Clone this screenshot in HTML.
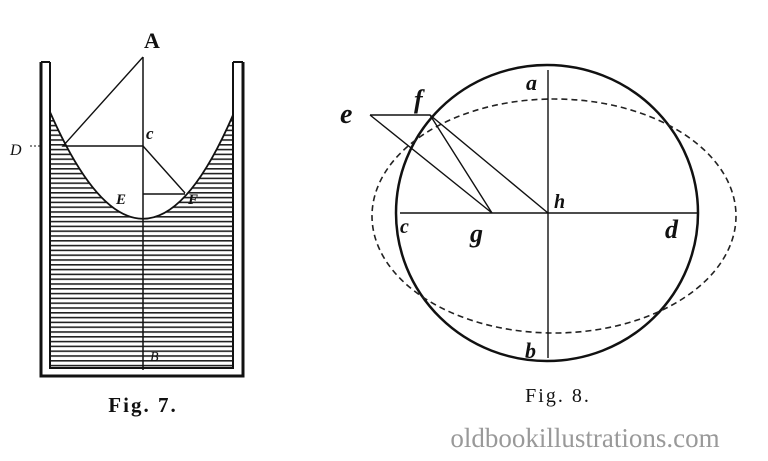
<!DOCTYPE html>
<html><head><style>
html,body{margin:0;padding:0;background:#fff;}
svg{display:block}
</style></head><body>
<svg width="768" height="461" viewBox="0 0 768 461" xmlns="http://www.w3.org/2000/svg">
<defs>
<clipPath id="water">
<path d="M50,112 Q143,324 233,115 L233,368 L50,368 Z"/>
</clipPath>
<pattern id="hatch" width="10" height="4.8" patternUnits="userSpaceOnUse">
<rect width="10" height="1.6" fill="#222"/>
</pattern>
</defs>
<rect width="768" height="461" fill="#fff"/>
<rect x="50" y="100" width="183" height="268" fill="url(#hatch)" clip-path="url(#water)"/>
<path d="M41,62 L41,376 L243,376 L243,62" fill="none" stroke="#111" stroke-width="3"/>
<path d="M50,62 L50,368 L233,368 L233,62" fill="none" stroke="#111" stroke-width="2"/>
<path d="M41,62 L50,62 M233,62 L243,62" stroke="#111" stroke-width="2"/>
<path d="M50,112 Q143,324 233,115" fill="none" stroke="#111" stroke-width="1.8"/>
<line x1="143" y1="57" x2="143" y2="370" stroke="#111" stroke-width="1.5"/>
<path d="M143,57 L63,146 L143,146 L185,193 M143,194 L185,194" fill="none" stroke="#111" stroke-width="1.4"/>
<line x1="30" y1="146" x2="40" y2="146" stroke="#111" stroke-width="1" stroke-dasharray="2,2"/>
<g font-family="Liberation Serif, serif" fill="#111">
<text x="152" y="48" font-size="22" font-weight="bold" text-anchor="middle">A</text>
<text x="10" y="155" font-size="16" font-style="italic">D</text>
<text x="146" y="139" font-size="17" font-style="italic" font-weight="bold">c</text>
<text x="116" y="204" font-size="15" font-style="italic" font-weight="bold">E</text>
<text x="188" y="204" font-size="15" font-style="italic" font-weight="bold">F</text>
<text x="150" y="361" font-size="14" font-style="italic">B</text>
<text x="143" y="412" font-size="21" font-weight="bold" text-anchor="middle" letter-spacing="2">Fig. 7.</text>
</g>
<ellipse cx="547" cy="213" rx="151" ry="148" fill="none" stroke="#111" stroke-width="2.5"/>
<ellipse cx="554" cy="216" rx="182" ry="117" fill="none" stroke="#222" stroke-width="1.6" stroke-dasharray="6,4"/>
<line x1="548" y1="70" x2="548" y2="358" stroke="#111" stroke-width="1.4"/>
<line x1="400" y1="213" x2="697" y2="213" stroke="#111" stroke-width="1.6"/>
<path d="M370,115 L430,115 L492,213 M370,115 L492,213 M430,115 L548,213" fill="none" stroke="#111" stroke-width="1.4"/>
<g font-family="Liberation Serif, serif" fill="#111" font-style="italic" font-weight="bold">
<text x="340" y="123" font-size="28">e</text>
<text x="414" y="108" font-size="26">f</text>
<text x="526" y="90" font-size="22">a</text>
<text x="400" y="233" font-size="20">c</text>
<text x="470" y="242" font-size="26">g</text>
<text x="554" y="208" font-size="20">h</text>
<text x="665" y="238" font-size="26">d</text>
<text x="525" y="358" font-size="22">b</text>
</g>
<text x="558" y="402" font-family="Liberation Serif, serif" font-size="20" text-anchor="middle" letter-spacing="2" fill="#111">Fig. 8.</text>
<text x="585" y="447" font-family="Liberation Serif, serif" font-size="27" text-anchor="middle" fill="#999">oldbookillustrations.com</text>
</svg>
</body></html>
